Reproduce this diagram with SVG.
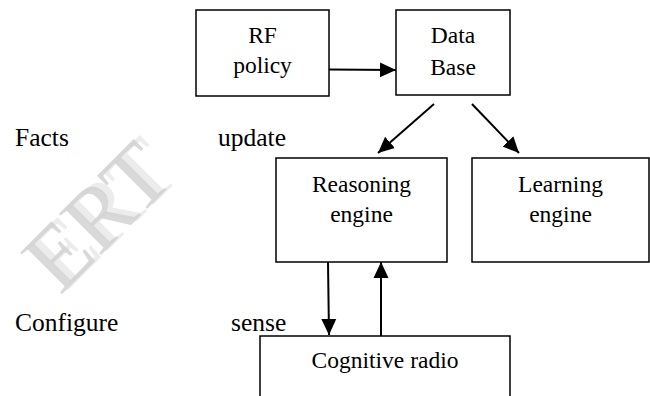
<svg xmlns="http://www.w3.org/2000/svg" width="650" height="396" viewBox="0 0 650 396">
  <style>
    text { font-family: "Liberation Serif", "DejaVu Serif", "Times New Roman", serif; }
    .box { fill: #ffffff; stroke: #000000; stroke-width: 1.5; }
    .lbl { font-size: 23.5px; fill: #000000; text-anchor: middle; }
    .side { font-size: 25.5px; fill: #000000; }
    .wire { stroke: #000000; stroke-width: 2; fill: none; marker-end: url(#head); }
    .wm { font-size: 90px; }
  </style>
  <defs>
    <marker id="head" viewBox="0 0 16 16" refX="16" refY="8" markerWidth="16" markerHeight="16" markerUnits="userSpaceOnUse" orient="auto">
      <path d="M0,0.5 L16,8 L0,15.5 Z" fill="#000000"/>
    </marker>
  </defs>
  <rect width="650" height="396" fill="#ffffff"/>

  <!-- faint watermark lettering -->
  <g id="watermark">
    <text class="wm" x="66" y="292" fill="#ececec" transform="rotate(-45 66 292)">ERT</text>
    <text class="wm" x="60" y="296" fill="#d0d0d0" fill-opacity="0.8" transform="rotate(-45 60 296)">ERT</text>
  </g>

  <!-- side labels -->
  <g id="labels">
    <text class="side" x="15" y="146">Facts</text>
    <text class="side" x="218" y="146">update</text>
    <text class="side" x="15" y="331">Configure</text>
    <text class="side" x="231" y="331">sense</text>
  </g>

  <g id="rf-policy">
    <rect class="box" x="196" y="10" width="133" height="86"/>
    <text class="lbl" x="262.5" y="43">RF</text>
    <text class="lbl" x="262.5" y="73">policy</text>
  </g>

  <g id="data-base">
    <rect class="box" x="396" y="10" width="114" height="85"/>
    <text class="lbl" x="453" y="43">Data</text>
    <text class="lbl" x="453" y="75">Base</text>
  </g>

  <g id="reasoning-engine">
    <rect class="box" x="276" y="158" width="171" height="104"/>
    <text class="lbl" x="361.5" y="192">Reasoning</text>
    <text class="lbl" x="361.5" y="222">engine</text>
  </g>

  <g id="learning-engine">
    <rect class="box" x="472" y="158" width="177" height="104"/>
    <text class="lbl" x="560.5" y="192">Learning</text>
    <text class="lbl" x="560.5" y="222">engine</text>
  </g>

  <g id="cognitive-radio">
    <rect class="box" x="260" y="336" width="250" height="80"/>
    <text class="lbl" x="385" y="368">Cognitive radio</text>
  </g>

  <g id="connectors">
    <line class="wire" x1="329" y1="69.5" x2="396" y2="70"/>
    <line class="wire" x1="434" y1="104" x2="378" y2="153"/>
    <line class="wire" x1="472" y1="104" x2="519" y2="153"/>
    <line class="wire" x1="328" y1="262" x2="329" y2="335"/>
    <line class="wire" x1="381" y1="336" x2="381" y2="262"/>
  </g>
</svg>
